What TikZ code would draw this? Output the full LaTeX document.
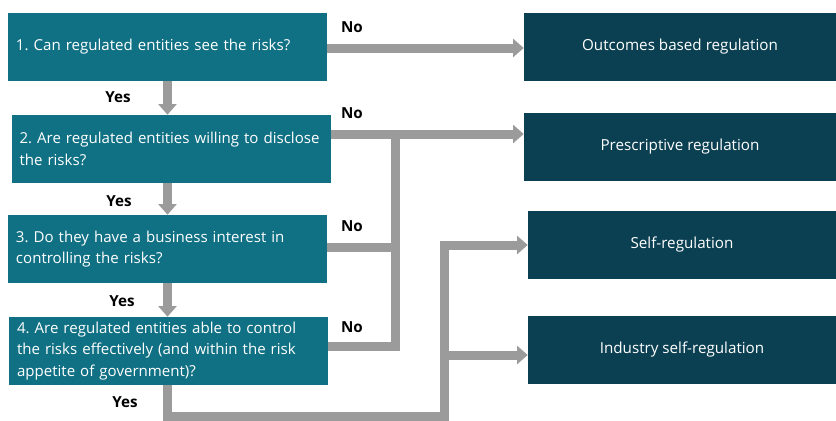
\documentclass[tikz,border=0pt]{standalone}
\usepackage{fontspec}
\setmainfont{Open Sans}
\usetikzlibrary{arrows.meta}
\definecolor{tealbox}{RGB}{16,112,132}
\definecolor{darkbox}{RGB}{11,64,82}
\definecolor{arrgray}{RGB}{155,155,155}
\frenchspacing
\begin{document}
\begin{tikzpicture}[x=0.75pt,y=-0.75pt,
  qbox/.style={fill=tealbox, text=white, minimum width=239.25pt, minimum height=51pt,
    inner xsep=6pt, inner ysep=0pt, text width=227.25pt, align=left,
    font=\fontsize{11.3pt}{16pt}\selectfont},
  rbox/.style={fill=darkbox, text=white, minimum height=51pt, inner sep=0pt,
    align=center, font=\fontsize{11.4pt}{16pt}\selectfont},
  lab/.style={font=\bfseries\fontsize{11.4pt}{14pt}\selectfont, text=black, inner sep=0pt},
  conn/.style={draw=arrgray, line width=6.75pt, line join=miter},
  tip/.style={-{Triangle[length=8pt,width=13.5pt]}}
]
\fill[white] (0,0) rectangle (836,421);
\useasboundingbox (0,0) rectangle (836,421);

% question boxes
\node[qbox] (b1) at (167.5,46.5) {\mbox{1. Can regulated entities see the risks?}};
\node[qbox] (b2) at (171,149) {\mbox{2. Are regulated entities willing to disclose}\\\mbox{the risks?}};
\node[qbox] (b3) at (167.5,249) {\mbox{3. Do they have a business interest in}\\\mbox{controlling the risks?}};
\node[qbox] (b4) at (168.5,351) {\mbox{4. Are regulated entities able to control}\\\mbox{the risks effectively (and within the risk}\\\mbox{appetite of government)?}};

% outcome boxes
\node[rbox, minimum width=234pt] (o) at (680,47) {Outcomes based regulation};
\node[rbox, minimum width=234pt] (p) at (680,147) {Prescriptive regulation};
\node[rbox, minimum width=231pt] (s) at (682,245) {Self-regulation};
\node[rbox, minimum width=231pt] (i) at (682,350) {Industry self-regulation};

% helper coordinates
\coordinate (y1) at (0,48);
\coordinate (y2) at (0,134);
\coordinate (y3) at (0,247);
\coordinate (y4) at (0,346);
\coordinate (busA) at (395,0);
\coordinate (busB) at (444,0);
\coordinate (ys) at (0,245);
\coordinate (yi) at (0,355);
\coordinate (ybot) at (0,416.5);

% yes arrows
\draw[conn,tip] (b1.south) -- (b1.south |- b2.north);
\draw[conn,tip] (b2.south -| b1.south) -- (b1.south |- b3.north);
\draw[conn,tip] (b3.south) -- (b3.south |- b4.north);

% no arrows
\draw[conn,tip] (b1.east |- y1) -- (o.west |- y1);
\draw[conn,tip] (b2.east |- y2) -- (p.west |- y2);
\draw[conn] (b3.east |- y3) -- (busA |- y3);
\draw[conn] (b4.east |- y4) -- (busA |- y4) -- (busA |- y2);

% final yes path
\draw[conn,tip] (b4.south -| b1.south) -- (b1.south |- ybot) -- (busB |- ybot) -- (busB |- ys) -- (s.west |- ys);
\draw[conn,tip] (busB |- yi) -- (i.west |- yi);

% labels
\node[lab] (yes1) at (118,97) {Yes};
\node[lab] (yes2) at (119,201) {Yes};
\node[lab] (yes3) at (122,301) {Yes};
\node[lab] (yes4) at (125,402) {Yes};
\node[lab] (no1) at (352,27) {No};
\node[lab] (no2) at (352,113) {No};
\node[lab] (no3) at (352,226) {No};
\node[lab] (no4) at (352,327) {No};
\end{tikzpicture}
\end{document}
